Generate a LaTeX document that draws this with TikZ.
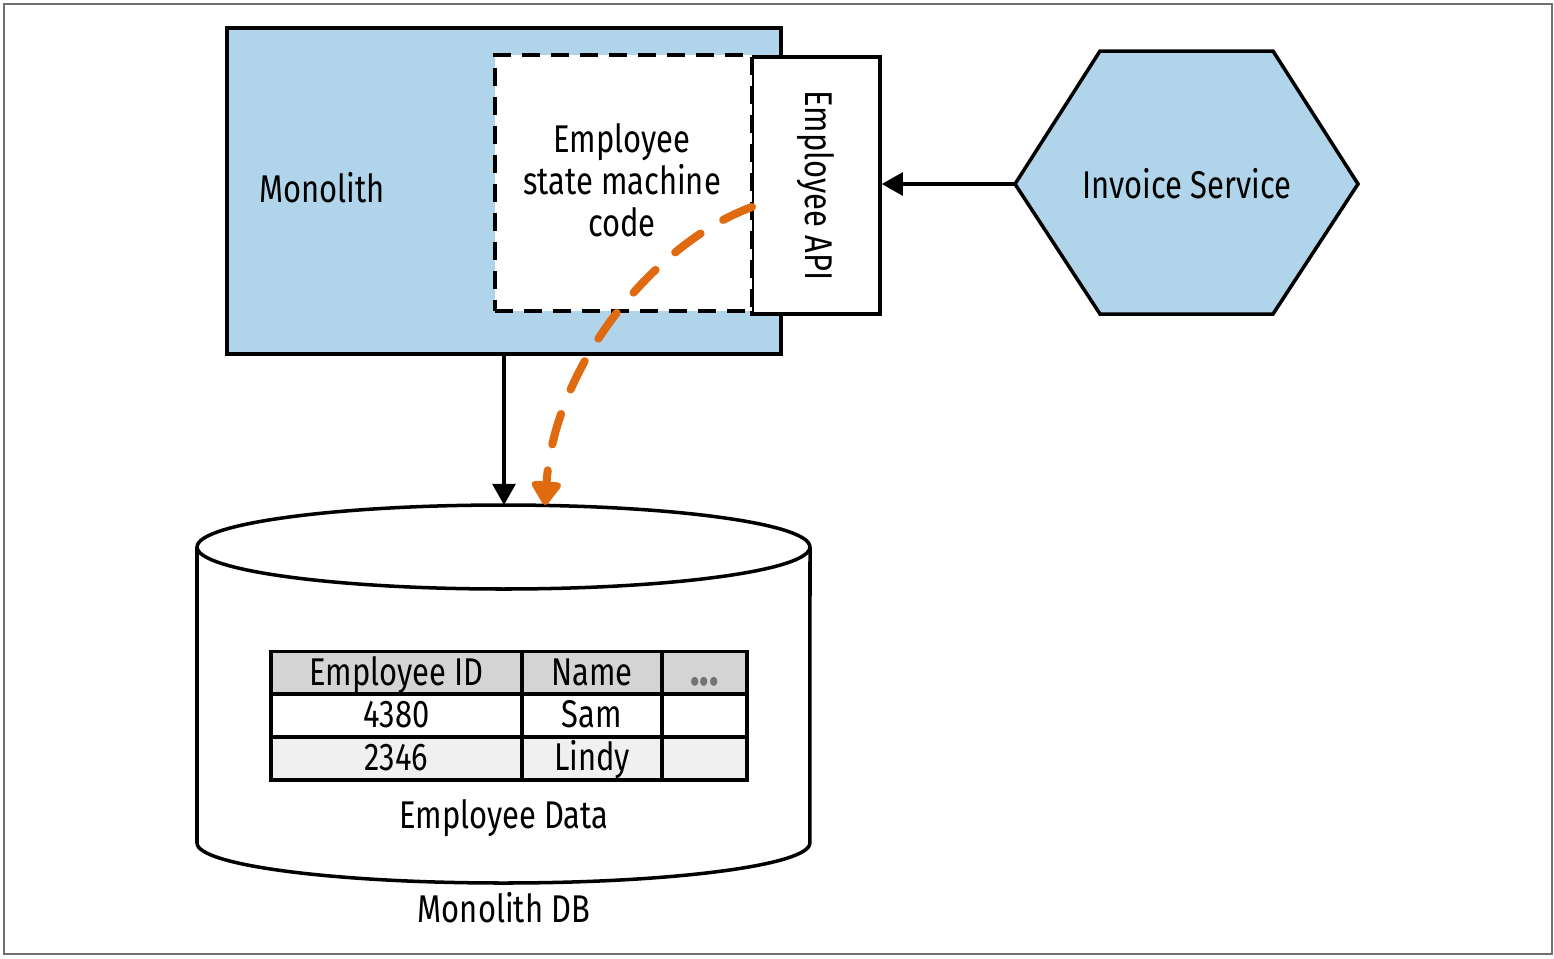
\documentclass[tikz,border=0pt]{standalone}
\usepackage{fontspec}
\setmainfont[FakeStretch=0.8]{Fira Sans}
\usepackage{xcolor}
\usepackage{tikz}
\usetikzlibrary{calc,arrows.meta}
\definecolor{monoblue}{HTML}{B0D4EA}
\definecolor{flow}{HTML}{E06A10}
\definecolor{headgray}{HTML}{D4D4D4}
\definecolor{rowgray}{HTML}{F0F0F0}
\definecolor{framegray}{HTML}{707070}
\tikzset{
  base/.style={draw=black, line width=2pt},
  box/.style={base, rectangle, inner sep=0pt},
  dashbox/.style={box, dash pattern=on 10.5pt off 6pt},
  lab/.style={font=\fontsize{22}{24}\selectfont, align=center, inner sep=0pt},
  cell/.style={box, minimum height=0.86cm, text height=17.5pt, text depth=3.5pt, font=\fontsize{22}{24}\selectfont},
  link/.style={draw=black, line width=1.9pt, -{Triangle[length=12pt,width=13pt]}},
  flowlink/.style={draw=flow, line width=4.6pt, line cap=round, dash pattern=on 18pt off 15pt, -{Triangle[length=15pt,width=19pt,round=false]}},
}

\begin{document}
\begin{tikzpicture}[x=0.02cm, y=0.02cm]
  \useasboundingbox (0,0) rectangle (1554,-958);
  \draw[draw=framegray, line width=1pt] (4,-4) rectangle (1552,-954);

  % monolith with its inner parts
  \node[box, fill=monoblue, minimum width=11.08cm, minimum height=6.52cm] (mono) at (504,-191) {};
  \node[lab] (monotext) at (322,-188) {Monolith};
  \node[box, fill=white, minimum width=2.56cm, minimum height=5.14cm] (api) at (816,-185.5) {};
  \node[lab, rotate=-90] (apitext) at (api) {Employee API};
  \node[dashbox, fill=white, minimum width=5.14cm, minimum height=5.12cm] (smc) at (623.5,-183) {};
  \node[lab] (smctext) at (622,-180) {Employee\\state machine\\code};

  % invoice service
  \draw[base, fill=monoblue, line join=miter] (1015,-184) coordinate (inv-w) -- (1100,-51) -- (1273,-51)
    -- (1358,-184) -- (1273,-314) -- (1100,-314) -- cycle;
  \node[lab] (inv) at (1187,-184) {Invoice Service};

  % monolith db
  \coordinate (dbtop) at (504,-505);
  \draw[base, fill=white] (197,-547) -- (197,-843) arc[start angle=180, end angle=360, x radius=6.13cm, y radius=0.8cm]
    -- (810,-547);
  \draw[base, fill=white] (503.5,-547) ellipse [x radius=6.13cm, y radius=0.84cm];

  \node[cell, fill=headgray, minimum width=5.02cm] (h1) at (396.5,-673) {Employee ID};
  \node[cell, fill=headgray, minimum width=2.80cm] (h2) at (592,-673) {Name};
  \node[cell, fill=headgray, minimum width=1.70cm] (h3) at (704.5,-673) {\textcolor{black!55}{\fontsize{28}{28}\selectfont\bfseries ...}};
  \node[cell, fill=white, minimum width=5.02cm] (a1) at (396.5,-715.5) {4380};
  \node[cell, fill=white, minimum width=2.80cm] (a2) at (592,-715.5) {Sam};
  \node[cell, fill=white, minimum width=1.70cm] (a3) at (704.5,-715.5) {};
  \node[cell, fill=rowgray, minimum width=5.02cm] (b1) at (396.5,-758.5) {2346};
  \node[cell, fill=rowgray, minimum width=2.80cm] (b2) at (592,-758.5) {Lindy};
  \node[cell, fill=rowgray, minimum width=1.70cm] (b3) at (704.5,-758.5) {};

  \node[lab] (dbdata) at (504,-818) {Employee Data};
  \node[lab] (dbname) at (504,-908) {Monolith DB};

  % connectors
  \draw[link] (inv-w) -- (inv-w -| api.east);
  \draw[link] (mono.south) -- (dbtop);
  \coordinate (flowstart) at (752,-207);
  \coordinate (flowend) at (545,-505);
  \draw[flowlink] (flowstart) .. controls (660,-240) and (555,-360) .. (flowend);
\end{tikzpicture}
\end{document}
